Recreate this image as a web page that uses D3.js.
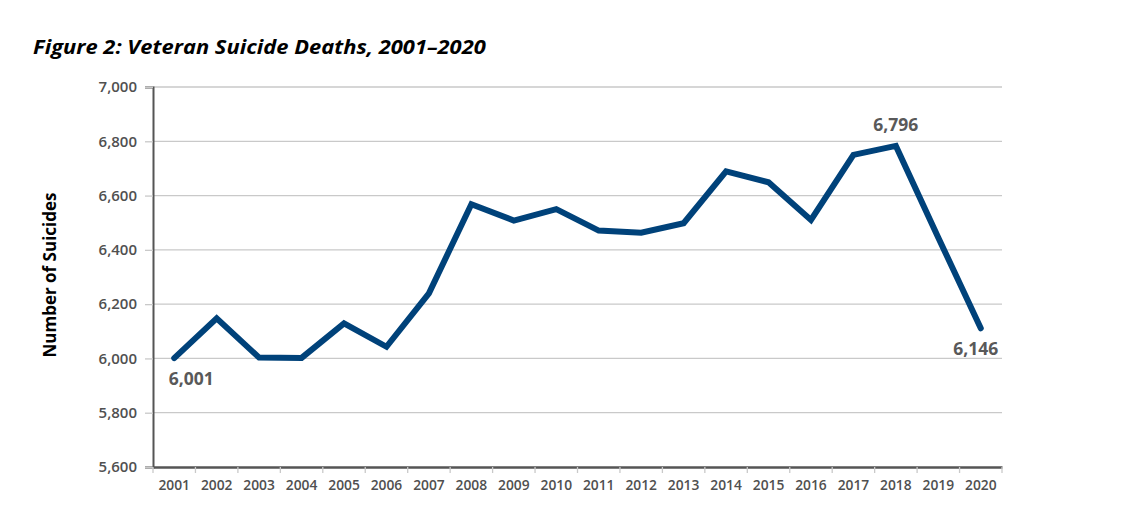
<!DOCTYPE html>
<html>
<head>
<meta charset="utf-8">
<script src="https://cdn.jsdelivr.net/npm/d3@7"></script>
<style>
  body { margin: 0; background: #fff; }
  svg { display: block; }
  text { font-family: "Open Sans", "Noto Sans", sans-serif; }
</style>
</head>
<body>
<div id="chart"></div>
<script>
var years = ['2001','2002','2003','2004','2005','2006','2007','2008','2009','2010',
             '2011','2012','2013','2014','2015','2016','2017','2018','2019','2020'];
var deaths = [6001, 6148, 6003, 6002, 6129, 6043, 6240, 6568, 6508, 6550,
              6471, 6463, 6498, 6689, 6649, 6510, 6750, 6783, 6445, 6111];
var yTicks = [5600, 5800, 6000, 6200, 6400, 6600, 6800, 7000];
var callouts = [
  {year: '2001', text: '6,001', pos: 'below'},
  {year: '2018', text: '6,796', pos: 'above'},
  {year: '2020', text: '6,146', pos: 'below'}
];

var svgWidth = 1122,
    svgHeight = 505,
    margin = {top: 87, right: 120, bottom: 38, left: 153},
    width = svgWidth - margin.left - margin.right,
    height = svgHeight - margin.top - margin.bottom;

var svg = d3.select('#chart')
  .append('svg')
  .attr('width', svgWidth)
  .attr('height', svgHeight);

// title: keep the glyph height, squeeze it to the width it has in the figure
var title = svg.append('text')
  .attr('x', 0)
  .attr('y', 0)
  .attr('font-size', 19.5)
  .attr('font-weight', 700)
  .attr('font-style', 'italic')
  .attr('fill', '#000')
  .text('Figure 2: Veteran Suicide Deaths, 2001\u20132020');
var tw = title.node().getComputedTextLength();
title.attr('transform', 'translate(33,54) scale(' + (453 / tw) + ',1)');

var g = svg.append('g')
  .attr('transform', 'translate(' + margin.left + ',' + margin.top + ')');

var x = d3.scaleBand().domain(years).range([0, width]);
var y = d3.scaleLinear().domain([5600, 7000]).range([height, 0]);

// gridlines
g.append('g')
  .selectAll('line')
  .data(yTicks.slice(1))
  .enter()
  .append('line')
  .attr('x1', 0)
  .attr('x2', width)
  .attr('y1', function(d){ return y(d); })
  .attr('y2', function(d){ return y(d); })
  .attr('stroke', '#c9c9c9')
  .attr('stroke-width', 1.3);

// y axis
var yAxis = g.append('g')
  .call(d3.axisLeft(y).tickValues(yTicks).tickSize(8).tickPadding(8).tickFormat(d3.format(',')));
yAxis.select('.domain').attr('stroke', '#555').attr('stroke-width', 2);
yAxis.selectAll('.tick line').attr('stroke', '#c9c9c9').attr('stroke-width', 1.3);
yAxis.selectAll('.tick text')
  .attr('font-family', '"Open Sans", sans-serif')
  .attr('font-size', 15)
  .attr('font-weight', 600)
  .attr('fill', '#505050');

// x axis
var xAxis = g.append('g')
  .attr('transform', 'translate(0,' + height + ')')
  .call(d3.axisBottom(x).tickSize(0).tickPadding(13));
xAxis.select('.domain').attr('stroke', '#555').attr('stroke-width', 2.5);
xAxis.selectAll('.tick text')
  .attr('font-family', '"Open Sans", sans-serif')
  .attr('font-size', 13.8)
  .attr('font-weight', 600)
  .attr('fill', '#505050');

// category separators under the x axis
g.append('g')
  .selectAll('line')
  .data(years.concat(['end']))
  .enter()
  .append('line')
  .attr('x1', function(d, i){ return i * x.step(); })
  .attr('x2', function(d, i){ return i * x.step(); })
  .attr('y1', height)
  .attr('y2', height + 6)
  .attr('stroke', '#c9c9c9')
  .attr('stroke-width', 1.3);

// axis title
svg.append('text')
  .attr('transform', 'translate(56,' + 275 + ') rotate(-90)')
  .attr('text-anchor', 'middle')
  .attr('font-size', 17)
  .attr('font-weight', 700)
  .attr('fill', '#000')
  .text('Number of Suicides');

// the line
var line = d3.line()
  .x(function(d, i){ return x(years[i]) + x.bandwidth() / 2; })
  .y(function(d){ return y(d); });

g.append('path')
  .datum(deaths)
  .attr('d', line)
  .attr('fill', 'none')
  .attr('stroke', '#00427a')
  .attr('stroke-width', 6)
  .attr('stroke-linejoin', 'miter')
  .attr('stroke-linecap', 'round');

// value callouts
g.selectAll('.callout')
  .data(callouts)
  .enter()
  .append('text')
  .attr('class', 'callout')
  .attr('x', function(d){
    var cx = x(d.year) + x.bandwidth() / 2;
    if (d.year === '2001') return cx + 17;
    if (d.year === '2020') return cx - 5;
    return cx;
  })
  .attr('y', function(d){
    var v = deaths[years.indexOf(d.year)];
    return d.pos === 'above' ? y(v) - 15 : y(v) + 27;
  })
  .attr('text-anchor', 'middle')
  .attr('font-size', 17.5)
  .attr('font-weight', 700)
  .attr('fill', '#595959')
  .text(function(d){ return d.text; });
</script>
</body>
</html>
